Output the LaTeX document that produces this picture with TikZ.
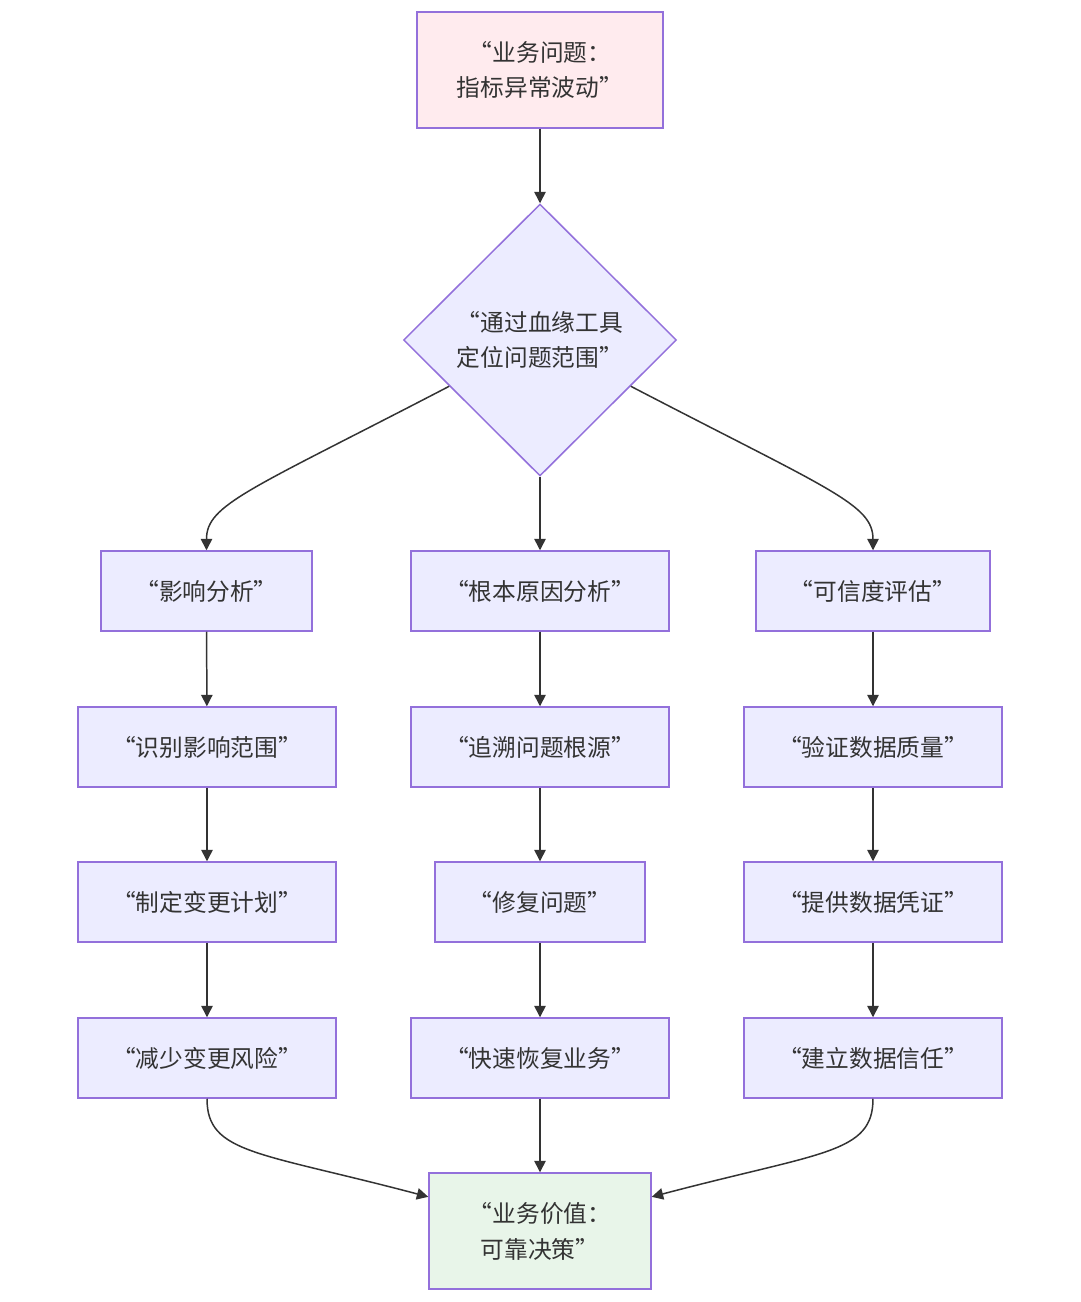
\documentclass[tikz,border=0pt]{standalone}
\usepackage{fontspec}
\setmainfont{Noto Sans CJK SC}
\usetikzlibrary{shapes.geometric,arrows.meta}
\definecolor{boxfill}{HTML}{ECECFF}
\definecolor{boxline}{HTML}{9370DB}
\definecolor{topfill}{HTML}{FFEBEE}
\definecolor{endfill}{HTML}{E8F5E9}
\definecolor{ink}{HTML}{333333}
\begin{document}
\begin{tikzpicture}[x=0.02cm,y=-0.02cm,
  box/.style={draw=boxline,fill=boxfill,line width=0.85pt,minimum height=1.6cm,text=ink,font=\fontsize{13.5}{20.4}\selectfont,align=center,inner sep=0pt},
  edge/.style={draw=ink,line width=0.85pt,-{Triangle[length=6.5pt,width=6.5pt]}}]
\useasboundingbox[fill=white] (0,0) rectangle (1080,1302);

\node[box,fill=topfill,minimum width=4.92cm,minimum height=2.32cm] (issue) at (540,70) {“业务问题：\\指标异常波动”};
\node[box,shape=diamond,minimum width=5.46cm,minimum height=5.44cm] (locate) at (540,340) {“通过血缘工具\\定位问题范围”};

\node[box,minimum width=4.22cm] (impact) at (206.5,591) {“影响分析”};
\node[box,minimum width=5.16cm] (root) at (540,591) {“根本原因分析”};
\node[box,minimum width=4.68cm] (trust) at (873,591) {“可信度评估”};

\node[box,minimum width=5.16cm] (scope) at (207,747) {“识别影响范围”};
\node[box,minimum width=5.16cm] (trace) at (540,747) {“追溯问题根源”};
\node[box,minimum width=5.16cm] (verify) at (873,747) {“验证数据质量”};

\node[box,minimum width=5.16cm] (plan) at (207,902) {“制定变更计划”};
\node[box,minimum width=4.2cm] (fix) at (540,902) {“修复问题”};
\node[box,minimum width=5.16cm] (proof) at (873,902) {“提供数据凭证”};

\node[box,minimum width=5.16cm] (risk) at (207,1058) {“减少变更风险”};
\node[box,minimum width=5.16cm] (restore) at (540,1058) {“快速恢复业务”};
\node[box,minimum width=5.16cm] (build) at (873,1058) {“建立数据信任”};

\node[box,fill=endfill,minimum width=4.44cm,minimum height=2.32cm] (value) at (540,1231) {“业务价值：\\可靠决策”};

\draw[edge] (issue) -- (locate);
\draw[edge] (locate.207) .. controls +(-200,104) and +(0,-46) .. (impact.north);
\draw[edge] (locate) -- (root);
\draw[edge] (locate.333) .. controls +(200,104) and +(0,-46) .. (trust.north);

\draw[edge] (impact) -- (scope);
\draw[edge] (scope) -- (plan);
\draw[edge] (plan) -- (risk);
\draw[edge] (root) -- (trace);
\draw[edge] (trace) -- (fix);
\draw[edge] (fix) -- (restore);
\draw[edge] (trust) -- (verify);
\draw[edge] (verify) -- (proof);
\draw[edge] (proof) -- (build);

\draw[edge] (risk.south) .. controls +(0,55) and +(-170,-45) .. (value.163);
\draw[edge] (restore) -- (value);
\draw[edge] (build.south) .. controls +(0,55) and +(170,-45) .. (value.17);
\end{tikzpicture}
\end{document}
